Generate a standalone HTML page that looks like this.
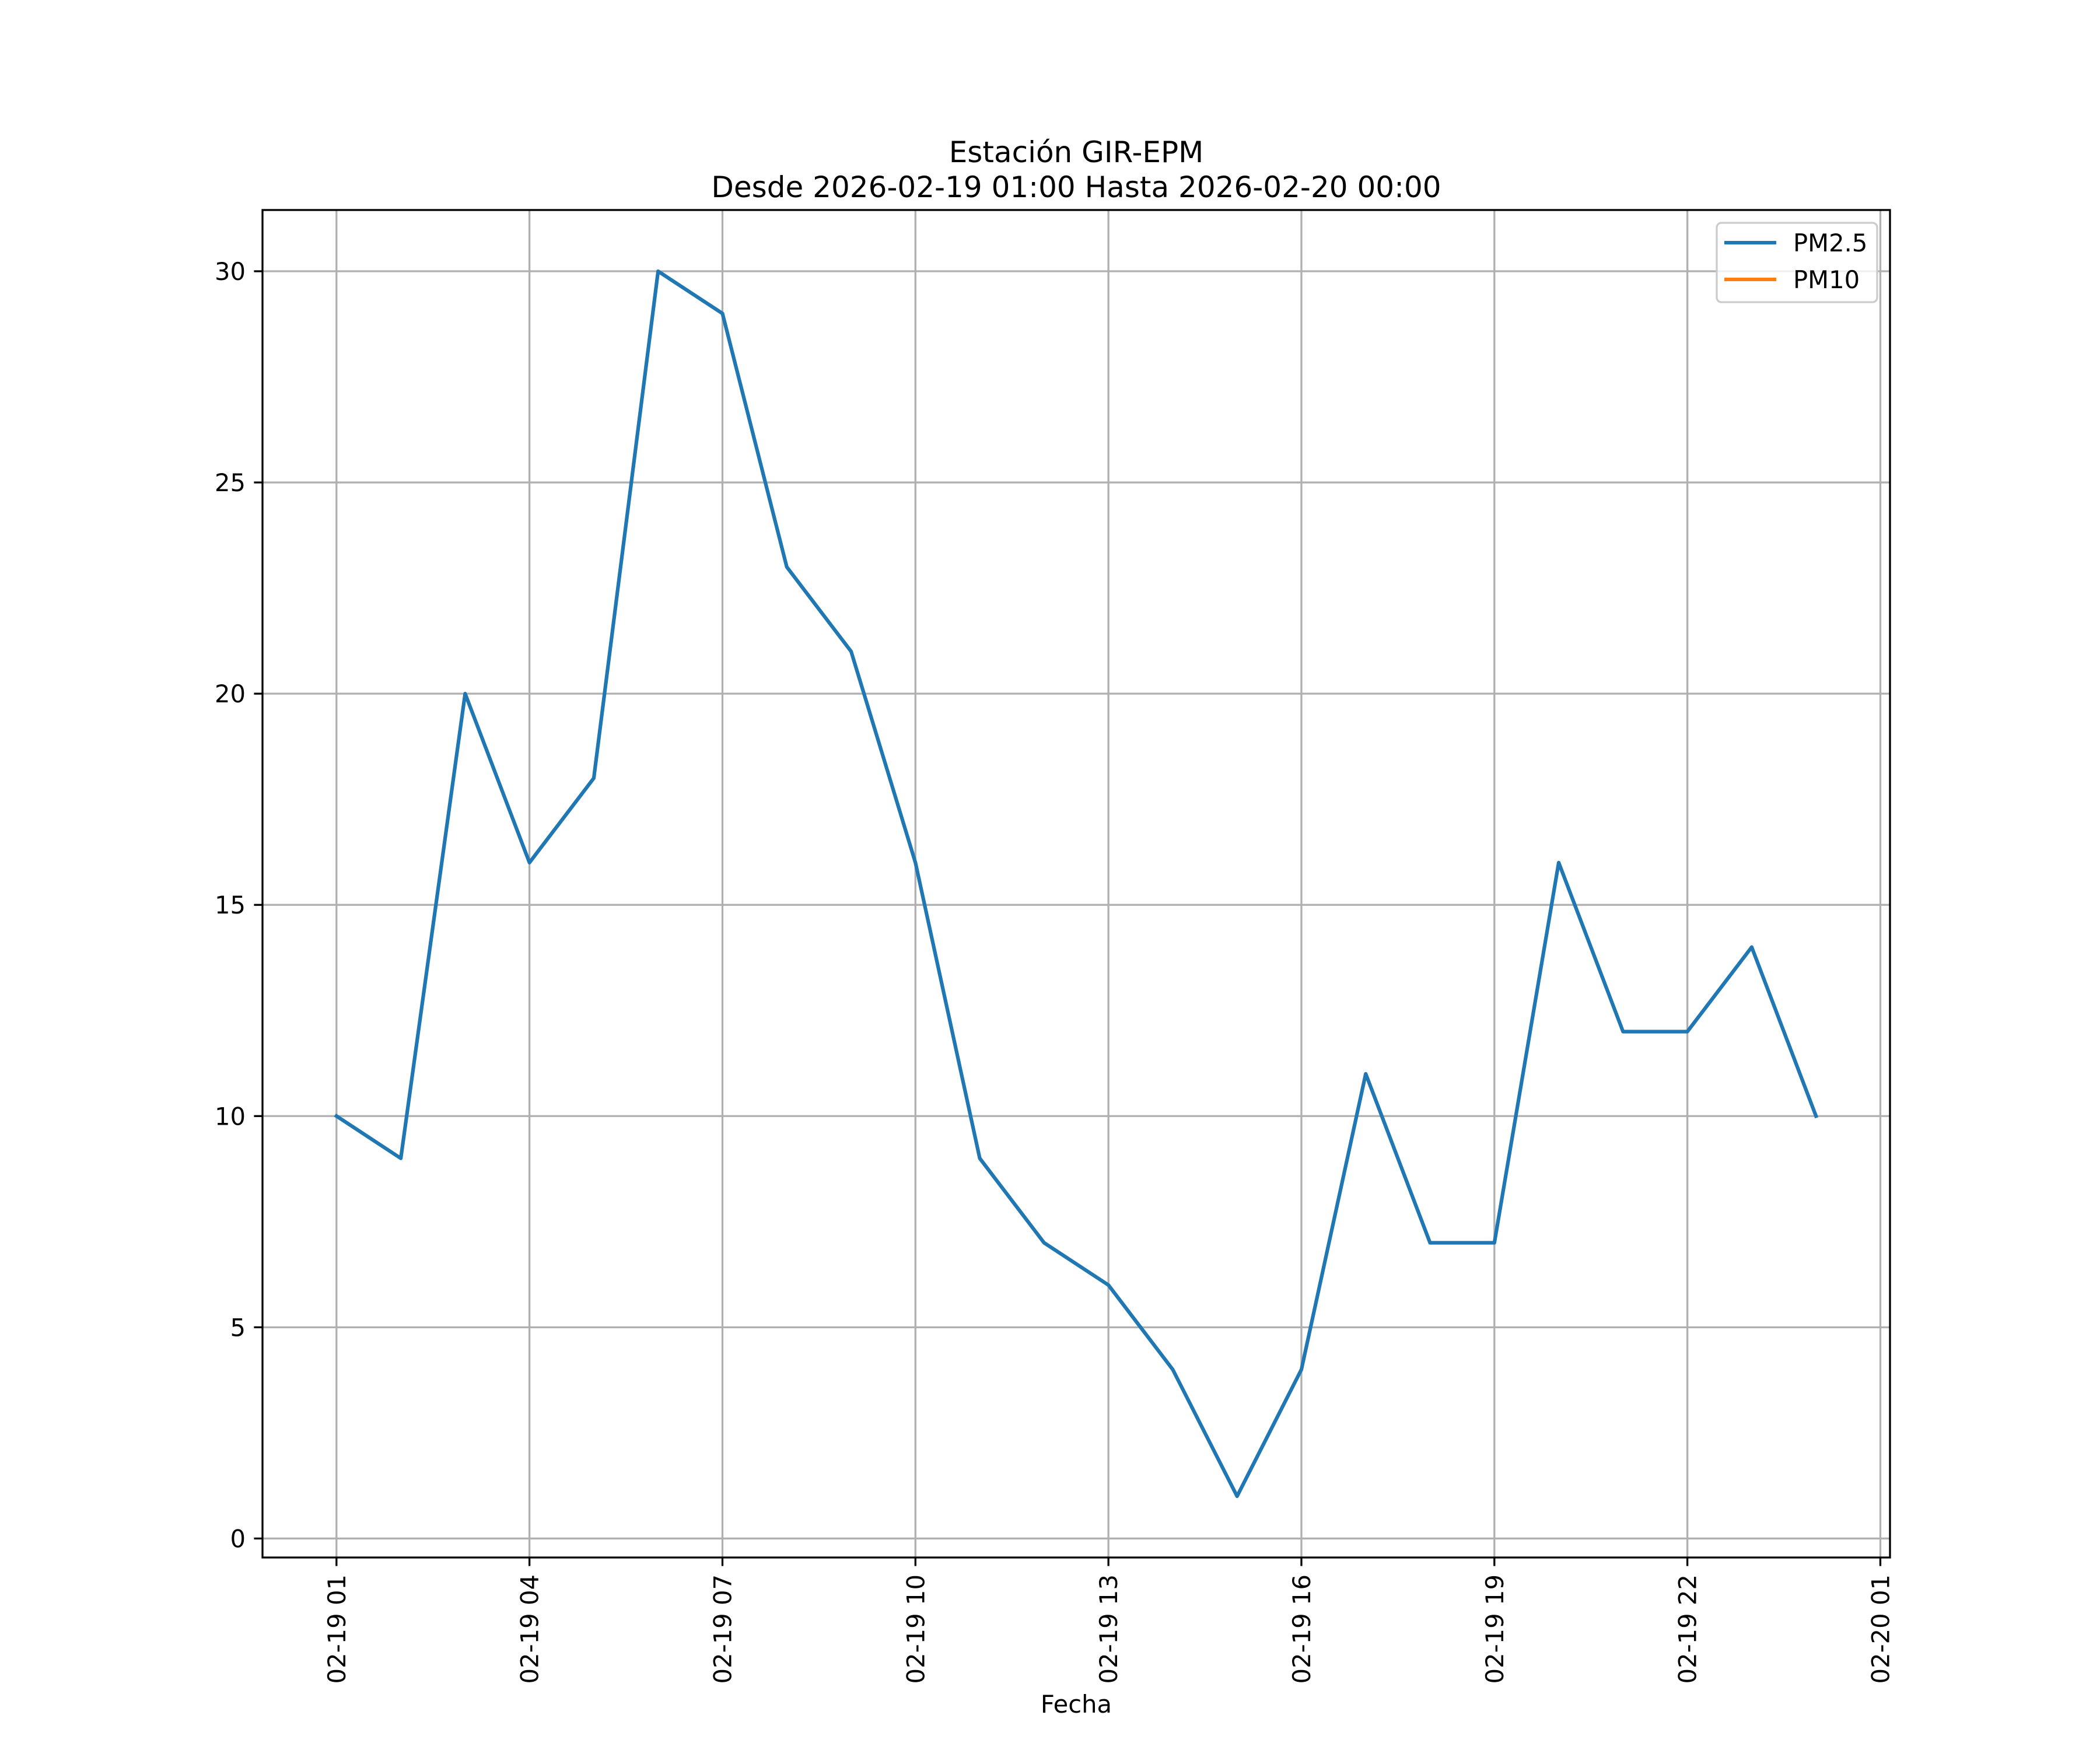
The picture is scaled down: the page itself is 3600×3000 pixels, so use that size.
<!DOCTYPE html>
<html><head><meta charset="utf-8"><style>
html,body{margin:0;padding:0;background:#fff;}
svg{display:block;font-family:"DejaVu Sans","Liberation Sans",sans-serif;}
</style></head><body>
<svg id="chart" width="3600" height="3000" viewBox="0 0 3600 3000" xmlns="http://www.w3.org/2000/svg">
<rect width="3600" height="3000" fill="#fff"/>
<text x="1845" y="278" font-size="50" text-anchor="middle">Estación GIR-EPM</text>
<text x="1845" y="338" font-size="50" text-anchor="middle">Desde 2026-02-19 01:00 Hasta 2026-02-20 00:00</text>
<g id="grid"></g>
<g id="series"></g>
<rect x="450" y="360" width="2790" height="2310" fill="none" stroke="#000" stroke-width="3.3"/>
<g id="ticks"></g>
<text x="1845" y="2936" font-size="41.7" text-anchor="middle">Fecha</text>
<g>
<rect x="2943" y="382" width="275" height="136" rx="8" fill="#fff" fill-opacity="0.8" stroke="#ccc" stroke-width="3.3"/>
<line x1="2956" y1="416" x2="3045" y2="416" stroke="#1f77b4" stroke-width="6"/>
<text x="3074" y="431" font-size="41.7">PM2.5</text>
<line x1="2956" y1="479" x2="3045" y2="479" stroke="#ff7f0e" stroke-width="6"/>
<text x="3074" y="494" font-size="41.7">PM10</text>
</g>
</svg>
<script>
const hours = [1,2,3,4,5,6,7,8,9,10,11,12,13,14,15,16,17,18,19,20,21,22,23,24];
const pm25 = [10,9,20,16,18,30,29,23,21,16,9,7,6,4,1,4,11,7,7,16,12,12,14,10];
const yTicks = [0,5,10,15,20,25,30];
const xTickHours = [1,4,7,10,13,16,19,22,25];
const xTickLabels = ["02-19 01","02-19 04","02-19 07","02-19 10","02-19 13","02-19 16","02-19 19","02-19 22","02-20 01"];

const L=450,R=3240,T=360,B=2670;
const xmin=1-1.15, xmax=24+1.15, ymin=-0.45, ymax=31.45;
const xs=h=>L+(h-xmin)/(xmax-xmin)*(R-L);
const ys=v=>B-(v-ymin)/(ymax-ymin)*(B-T);
const NS="http://www.w3.org/2000/svg";
function mk(tag,attrs,parent){const e=document.createElementNS(NS,tag);for(const k in attrs)e.setAttribute(k,attrs[k]);parent.appendChild(e);return e;}
const grid=document.getElementById('grid'),ticks=document.getElementById('ticks'),series=document.getElementById('series');
yTicks.forEach(v=>{
  const g=mk('line',{x1:L,x2:R,y1:ys(v),y2:ys(v),stroke:'#b0b0b0','stroke-width':3.3},grid);
  
  
  const t=mk('line',{x1:L-14.6,x2:L,y1:ys(v),y2:ys(v),stroke:'#000','stroke-width':3.3},ticks);
  
  
  const tx=mk('text',{x:L-29,y:ys(v)+15,'font-size':41.7,'text-anchor':'end'},ticks);
  tx.textContent=v;
  
  
});
xTickHours.forEach((h,i)=>{
  const x=xs(h);
  const g=mk('line',{x1:x,x2:x,y1:T,y2:B,stroke:'#b0b0b0','stroke-width':3.3},grid);
  
  
  const t=mk('line',{x1:x,x2:x,y1:B,y2:B+14.6,stroke:'#000','stroke-width':3.3},ticks);
  
  
  const tx=mk('text',{x:0,y:0,'font-size':41.7,'text-anchor':'end',transform:`translate(${x+15},${B+29}) rotate(-90)`},ticks);
  tx.textContent=xTickLabels[i];
  
  
});
const p=mk('polyline',{points:hours.map((h,i)=>xs(h)+','+ys(pm25[i])).join(' '),fill:'none',stroke:'#1f77b4','stroke-width':6.25,'stroke-linejoin':'round','stroke-linecap':'square'},series);


</script>
</body></html>
